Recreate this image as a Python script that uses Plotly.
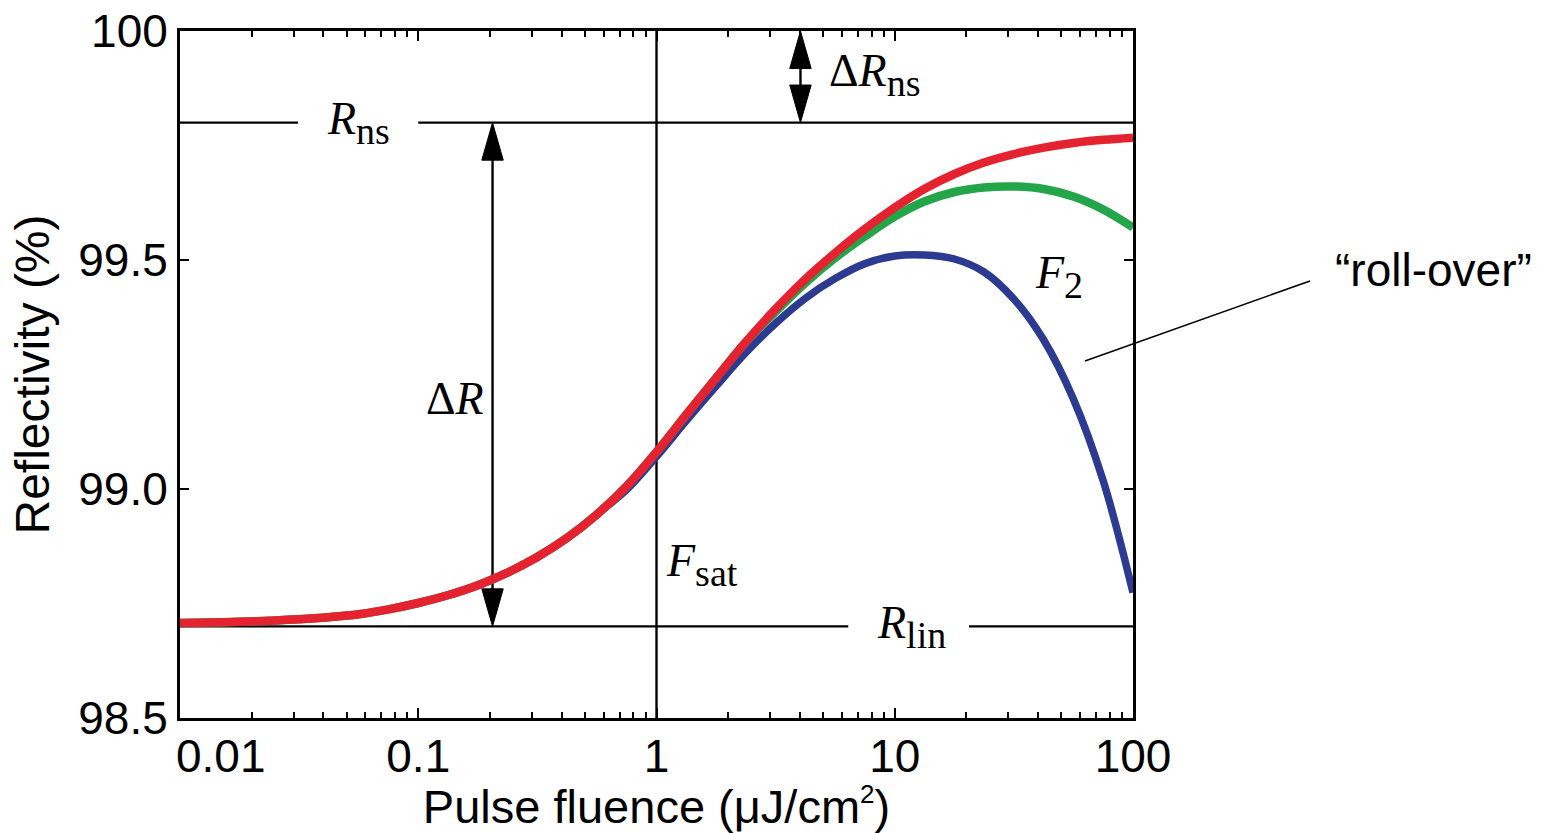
import math
import plotly.graph_objects as go

# ---------------- data (1/8-decade steps) ----------------
fluence = [0.01, 0.0133, 0.0178, 0.0237, 0.0316, 0.0422, 0.0562, 0.075,
           0.1, 0.133, 0.178, 0.237, 0.316, 0.422, 0.562, 0.75,
           1, 1.33, 1.78, 2.37, 3.16, 4.22, 5.62, 7.5,
           10, 13.3, 17.8, 23.7, 31.6, 42.2, 56.2, 75, 100]

# red: saturable absorber only
refl_red = [98.7074, 98.7085, 98.7100, 98.7124, 98.7155, 98.7201, 98.7266, 98.7373,
            98.7511, 98.7681, 98.7900, 98.8175, 98.8515, 98.8934, 98.9445, 99.0061,
            99.0808, 99.1616, 99.2424, 99.3210, 99.3930, 99.4585, 99.5153, 99.5677,
            99.6144, 99.6550, 99.6878, 99.7129, 99.7314, 99.7454, 99.7555, 99.7624, 99.7672]

# green: with weak induced absorption
refl_green = [98.7074, 98.7085, 98.7100, 98.7124, 98.7155, 98.7201, 98.7266, 98.7373,
              98.7511, 98.7681, 98.7900, 98.8175, 98.8515, 98.8934, 98.9445, 99.0061,
              99.0808, 99.1616, 99.2424, 99.3205, 99.3869, 99.4502, 99.5044, 99.5517,
              99.5948, 99.6277, 99.6485, 99.6583, 99.6605, 99.6550, 99.6386, 99.6103, 99.5710]

# blue: with strong induced absorption ("roll-over")
refl_blue = [98.7074, 98.7085, 98.7100, 98.7124, 98.7155, 98.7201, 98.7266, 98.7373,
             98.7511, 98.7681, 98.7900, 98.8175, 98.8515, 98.8934, 98.9445, 98.9987,
             99.0707, 99.1483, 99.2247, 99.2974, 99.3616, 99.4166, 99.4594, 99.4921,
             99.5087, 99.5109, 99.5022, 99.4738, 99.4148, 99.3253, 99.1965, 99.0175, 98.7738]

R_NS = 99.8          # non-saturable reflectivity level
R_LIN = 98.7         # linear (small-signal) reflectivity level
F_SAT = 1.0          # saturation fluence
F_DELTA_R = 0.205    # position of the Delta R arrow
F_DELTA_RNS = 4.02   # position of the Delta R_ns arrow
R_NS_GAP = [0.0313, 0.1]     # break in R_ns line for its label
R_LIN_GAP = [6.38, 20.5]     # break in R_lin line for its label

X_RANGE = [0.01, 100]
Y_RANGE = [98.5, 100]
x_ticks = [0.01, 0.1, 1, 10, 100]
x_ticktext = ['', '0.1', '1', '10', '100']
y_ticks = [98.5, 99.0, 99.5, 100]
y_ticktext = ['98.5', '99.0', '99.5', '100']

RED = '#E52330'
GREEN = '#23A64A'
BLUE = '#2C3A92'

fig = go.Figure()

def line(xs, ys, width=2.4):
    fig.add_trace(go.Scatter(x=xs, y=ys, mode='lines', line=dict(color='black', width=width),
                             hoverinfo='skip', showlegend=False))

# reference lines
line([X_RANGE[0], R_NS_GAP[0]], [R_NS, R_NS])
line([R_NS_GAP[1], X_RANGE[1]], [R_NS, R_NS])
line([X_RANGE[0], R_LIN_GAP[0]], [R_LIN, R_LIN])
line([R_LIN_GAP[1], X_RANGE[1]], [R_LIN, R_LIN])
line([F_SAT, F_SAT], Y_RANGE)

# double arrows
HEAD_LEN = 0.082
HEAD_HALF = 10 ** 0.045

def head(xc, tip, direction):
    base = tip - direction * HEAD_LEN
    fig.add_trace(go.Scatter(x=[xc, xc / HEAD_HALF, xc * HEAD_HALF, xc],
                             y=[tip, base, base, tip], mode='lines', fill='toself',
                             fillcolor='black', line=dict(color='black', width=1),
                             hoverinfo='skip', showlegend=False))

def double_arrow(xc, lo, hi):
    line([xc, xc], [lo + HEAD_LEN * 0.8, hi - HEAD_LEN * 0.8])
    head(xc, hi, 1)
    head(xc, lo, -1)

double_arrow(F_DELTA_R, R_LIN, R_NS)
double_arrow(F_DELTA_RNS, R_NS, Y_RANGE[1])

# curves
fig.add_trace(go.Scatter(x=fluence, y=refl_blue, mode='lines',
                         line=dict(color=BLUE, width=7.5, shape='spline', smoothing=1.0), showlegend=False))
fig.add_trace(go.Scatter(x=fluence, y=refl_green, mode='lines',
                         line=dict(color=GREEN, width=8.5, shape='spline', smoothing=1.0), showlegend=False))
fig.add_trace(go.Scatter(x=fluence, y=refl_red, mode='lines',
                         line=dict(color=RED, width=8.5, shape='spline', smoothing=1.0), showlegend=False))

serif = dict(family='Liberation Serif', size=46, color='black')
sans = dict(family='Liberation Sans', size=46, color='black')
SUB = '<sub><span style="font-size:38px">%s</span></sub>'

def label(text, f, y, xanchor='center', yanchor='middle'):
    fig.add_annotation(x=math.log10(f), y=y, xref='x', yref='y', text=text, showarrow=False,
                       font=serif, xanchor=xanchor, yanchor=yanchor)

label('<i>R</i>' + SUB % 'ns', 0.0564, R_NS)
label('Δ<i>R</i>' + SUB % 'ns', 5.2, 99.905, xanchor='left')
label('Δ<i>R</i>', 0.142, 99.197)
label('<i>F</i>' + SUB % 'sat', 1.07, 98.835, xanchor='left')
label('<i>R</i>' + SUB % 'lin', 11.7, R_LIN)
label('<i>F</i>' + SUB % '2', 38.0, 99.463, xanchor='left')

# 0.01 tick label, left aligned at the axis start
fig.add_annotation(x=0, y=0, xref='paper', yref='paper', text='0.01', showarrow=False,
                   font=sans, xanchor='left', yanchor='top', yshift=-10, xshift=-6)

# roll-over label with leader line
fig.add_annotation(x=1.3148, y=0.652, xref='paper', yref='paper', text='“roll-over”', showarrow=False,
                   font=sans, xanchor='center', yanchor='middle')
fig.add_shape(type='line', xref='paper', yref='paper', x0=0.9496, y0=0.5197, x1=1.1857, y1=0.6361,
              line=dict(color='black', width=1.6))

fig.update_layout(
    width=1562, height=833,
    margin=dict(l=180, r=429, t=31, b=115),
    plot_bgcolor='white', paper_bgcolor='white', showlegend=False,
)
fig.update_xaxes(
    type='log', range=[math.log10(X_RANGE[0]), math.log10(X_RANGE[1])], automargin=False,
    tickmode='array', tickvals=x_ticks, ticktext=x_ticktext,
    ticks='inside', ticklen=10, tickwidth=2.2, tickcolor='black', ticklabelstandoff=-4,
    showline=True, linecolor='black', linewidth=3, mirror='ticks',
    showgrid=False, zeroline=False, tickfont=sans,
    minor=dict(ticks='inside', ticklen=6, tickwidth=1.8, tickcolor='black', dtick='D1', showgrid=False),
    title=dict(text='Pulse fluence (μJ/cm<sup><span style="font-size:26px">2</span></sup>)',
               font=dict(family='Liberation Sans', size=47, color='black'), standoff=6),
)
fig.update_yaxes(
    range=Y_RANGE, automargin=False, tickmode='array', tickvals=y_ticks, ticktext=y_ticktext,
    ticks='inside', ticklen=9, tickwidth=2.2, tickcolor='black',
    showline=True, linecolor='black', linewidth=3, mirror='ticks',
    showgrid=False, zeroline=False, tickfont=sans,
    title=dict(text='Reflectivity (%)', font=dict(family='Liberation Sans', size=48, color='black'),
               standoff=14),
)

fig.write_html('out.html')
